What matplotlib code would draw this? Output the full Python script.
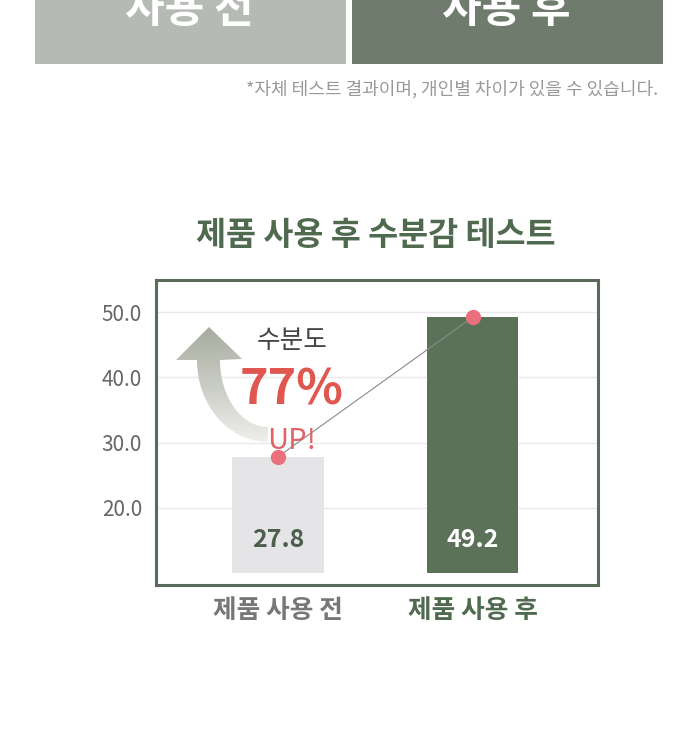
import numpy as np
import matplotlib
matplotlib.use("Agg")
import matplotlib.pyplot as plt
from matplotlib.patches import Rectangle, Polygon
from matplotlib.colors import LinearSegmentedColormap

plt.rcParams['font.family'] = ['Noto Sans CJK KR', 'DejaVu Sans']

# ---- data ----
categories = ["제품 사용 전", "제품 사용 후"]
values = [27.8, 49.2]
value_labels = ["27.8", "49.2"]
yticks = [20, 30, 40, 50]
ytick_labels = ["20.0", "30.0", "40.0", "50.0"]
title = "제품 사용 후 수분감 테스트"
header_labels = ["사용 전", "사용 후"]
footnote = "*자체 테스트 결과이며, 개인별 차이가 있을 수 있습니다."
increase_label = "수분도"
increase_pct = "77%"
increase_up = "UP!"

W, H = 700, 730
fig = plt.figure(figsize=(W / 100, H / 100), dpi=100)
fig.patch.set_facecolor("white")

# ---- overlay for header ----
ov = fig.add_axes([0, 0, 1, 1])
ov.set_xlim(0, W)
ov.set_ylim(H, 0)
ov.axis("off")
ov.add_patch(Rectangle((35, -10), 311, 74, color="#b5bbb4", lw=0))
ov.add_patch(Rectangle((352, -10), 311, 74, color="#6f7b6d", lw=0))
ov.text(189, 9, header_labels[0], color="white", fontsize=31, fontweight="bold",
        ha="center", va="center")
ov.text(506, 9, header_labels[1], color="white", fontsize=31, fontweight="bold",
        ha="center", va="center")
ov.text(658, 89, footnote, color="#999999", fontsize=13, ha="right", va="center",
        fontweight="light")
ov.text(376, 236, title, color="#4f6a4f", fontsize=23.5, fontweight="bold",
        ha="center", va="center")

# ---- main chart ----
ax = fig.add_axes([156 / W, 1 - 585 / H, 442 / W, 305 / H])
ax.set_facecolor("white")
x = np.arange(len(categories))
base = 10
bar_colors = ["#e5e5e7", "#5b7259"]
ax.bar(x, [v - base for v in values], bottom=base, width=0.47, color=bar_colors, zorder=2)
ax.set_xlim(-0.625, 1.644)
ax.set_ylim(8.2, 54.9)
ax.set_yticks(yticks)
ax.set_yticklabels(ytick_labels, fontsize=15, color="#666666")
ax.tick_params(axis="y", length=0, pad=10)
ax.set_xticks(x)
ax.set_xticklabels(categories, fontsize=18.5, fontweight="bold")
for lab, c in zip(ax.get_xticklabels(), ["#777777", "#4f6a4f"]):
    lab.set_color(c)
ax.tick_params(axis="x", length=0, pad=9)
ax.grid(axis="y", color="#e9e9e9", lw=1, zorder=0)
ax.set_axisbelow(True)
for s in ax.spines.values():
    s.set_color("#5b6b5a")
    s.set_linewidth(2.2)

label_colors = ["#4d5e4d", "white"]
for xi, lab, c in zip(x, value_labels, label_colors):
    ax.text(xi, 15.1, lab, ha="center", va="center", fontsize=18, fontweight="bold",
            color=c, zorder=5)

# connecting line + dots
ax.plot(x, values, color="#8a8a8a", lw=0.8, zorder=4)
ax.plot(x, values, "o", color="#e9707c", markersize=11, zorder=6, markeredgewidth=0)

# ---- curved gradient arrow (pixel-defined decoration) ----
fig.canvas.draw()
inv = ax.transData.inverted()


def px(pts):
    pts = np.asarray(pts, dtype=float)
    disp = np.column_stack([pts[:, 0], H - pts[:, 1]])
    return inv.transform(disp)


cx, cy = 268, 360
t = np.linspace(np.pi, np.pi / 2, 40)
outer = np.column_stack([cx + 71 * np.cos(t), cy + 82 * np.sin(t)])
inner = np.column_stack([cx + 48 * np.cos(t[::-1]), cy + 67 * np.sin(t[::-1])])
head = np.array([[220, 360], [242, 359], [209, 327], [176, 360], [197, 360]])
shape = np.vstack([outer, inner, head])
poly = Polygon(px(shape), closed=True, facecolor="none", edgecolor="none")
ax.add_patch(poly)
ext_pts = px([[170, 320], [280, 450]])
grad = np.linspace(0, 1, 256).reshape(-1, 1)
cmap = LinearSegmentedColormap.from_list("g", ["#a3a89b", "#c9ccc3", "#f4f4f2"])
im = ax.imshow(grad, cmap=cmap, aspect="auto",
               extent=[ext_pts[0, 0], ext_pts[1, 0], ext_pts[1, 1], ext_pts[0, 1]],
               origin="upper", zorder=3, interpolation="bilinear")
im.set_clip_path(poly)
ax.set_xlim(-0.625, 1.644)
ax.set_ylim(8.2, 54.9)

# ---- annotation text ----
anno = px([[292, 341], [292, 390], [292, 441]])
ax.text(anno[0, 0], anno[0, 1], increase_label, ha="center", va="center", fontsize=18.5,
        color="#454545", zorder=7)
ax.text(anno[1, 0], anno[1, 1], increase_pct, ha="center", va="center", fontsize=35,
        fontweight="bold", color="#e0574f", zorder=7)
ax.text(anno[2, 0], anno[2, 1], increase_up, ha="center", va="center", fontsize=21,
        color="#e06468", zorder=7)

fig.savefig("out.png", dpi=100, facecolor="white")
